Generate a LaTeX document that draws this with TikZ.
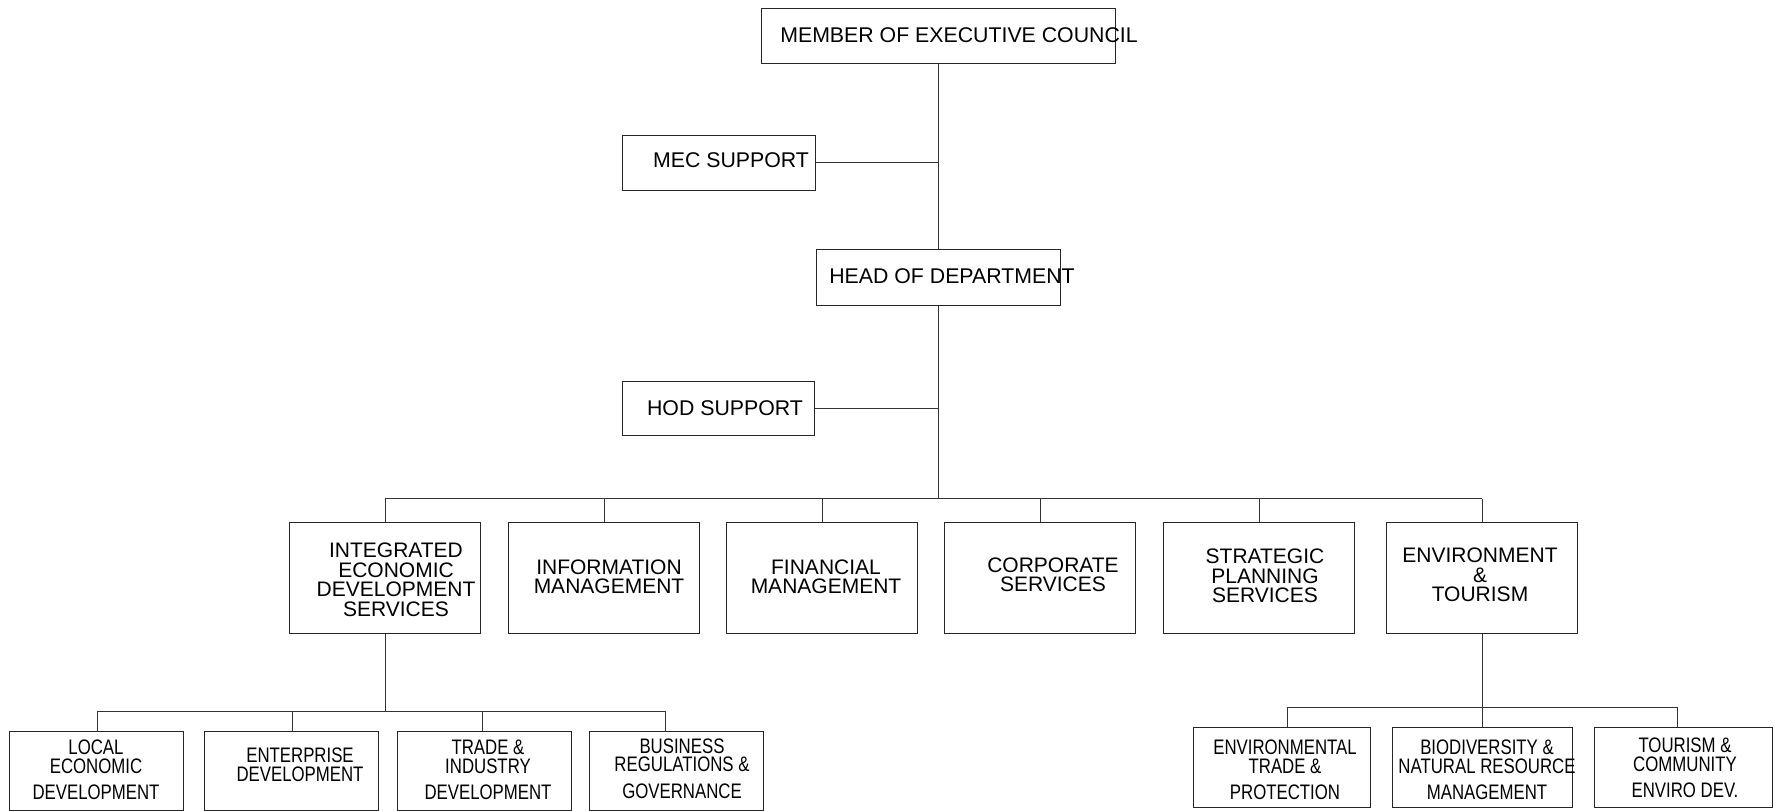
\documentclass[tikz,border=0pt]{standalone}
\usepackage{fontspec}
\setmainfont{Liberation Sans}
\newfontfamily\narrowfont[FakeStretch=0.8]{Liberation Sans}
\begin{document}
\begin{tikzpicture}[x=1pt,y=-1pt,
  box/.style={draw=black!85, line width=1pt, inner sep=0pt},
  conn/.style={draw=black!80, line width=0.9pt},
  toptext/.style={font=\fontsize{21.3}{22}\selectfont, inner sep=0pt},
  midtext/.style={font=\fontsize{21}{19.5}\selectfont, align=center, inner sep=0pt},
  bottext/.style={font=\narrowfont\fontsize{21}{18.5}\selectfont, align=center, inner sep=0pt}]
\useasboundingbox (0,0) rectangle (1775,811);

% top level
\node[box, minimum width=354, minimum height=55] (mec) at (938,35.5) {};
\node[toptext] (mect) at (959,35) {MEMBER OF EXECUTIVE COUNCIL};
\node[box, minimum width=193, minimum height=55] (mecs) at (719,162.5) {};
\node[toptext] (mecst) at (731,160) {MEC SUPPORT};
\node[box, minimum width=244, minimum height=56] (hod) at (938,277) {};
\node[toptext] (hodt) at (952,276) {HEAD OF DEPARTMENT};
\node[box, minimum width=192, minimum height=54] (hods) at (718,408) {};
\node[toptext] (hodst) at (725,408) {HOD SUPPORT};

\draw[conn] (mec.south) -- (hod.north);
\draw[conn] (mecs.east) -- (mecs.east -| mec.south);
\draw[conn] (hods.east) -- (hods.east -| hod.south);

% middle row
\coordinate (busM) at (938,498.5);
\foreach \n/\x in {ieds/385, info/604, fin/822, corp/1040, strat/1259, env/1482}{
  \node[box, minimum width=191, minimum height=111] (\n) at (\x,577.5) {};
}
\draw[conn] (hod.south) -- (busM);
\draw[conn] (ieds.north |- busM) -- (env.north |- busM);
\foreach \n in {ieds, info, fin, corp, strat, env}{
  \draw[conn] (\n.north) -- (\n.north |- busM);
}
\node[midtext] (iedst) at (396,580) {INTEGRATED\\ECONOMIC\\DEVELOPMENT\\SERVICES};
\node[midtext] (infot) at (609,577) {INFORMATION\\MANAGEMENT};
\node[midtext] (fint) at (826,577) {FINANCIAL\\MANAGEMENT};
\node[midtext] (corpt) at (1053,575) {CORPORATE\\SERVICES};
\node[midtext] (stratt) at (1265,576) {STRATEGIC\\PLANNING\\SERVICES};
\node[midtext] (envt) at (1480,575) {ENVIRONMENT\\\&\\TOURISM};

% bottom left group
\foreach \n/\x in {local/96, enter/291, trade/484, busi/676}{
  \node[box, minimum width=174, minimum height=79] (\n) at (\x,770.5) {};
}
\coordinate (lb1) at (97,711);
\coordinate (lb2) at (292,711);
\coordinate (lb3) at (482,711);
\coordinate (lb4) at (665,711);
\draw[conn] (ieds.south) -- (ieds.south |- lb1);
\draw[conn] (lb1) -- (lb4);
\draw[conn] (lb1) -- (lb1 |- local.north);
\draw[conn] (lb2) -- (lb2 |- enter.north);
\draw[conn] (lb3) -- (lb3 |- trade.north);
\draw[conn] (lb4) -- (lb4 |- busi.north);
\node[bottext] (localt) at (96,770) {LOCAL\\ECONOMIC\\[8pt]DEVELOPMENT};
\node[bottext] (entert) at (300,765) {ENTERPRISE\\[1pt]DEVELOPMENT};
\node[bottext] (tradet) at (488,770) {TRADE \&\\INDUSTRY\\[8pt]DEVELOPMENT};
\node[bottext] (busit) at (682,768.5) {BUSINESS\\REGULATIONS \&\\[8pt]GOVERNANCE};

% bottom right group
\node[box, minimum width=177, minimum height=80] (envtr) at (1281.5,767) {};
\node[box, minimum width=180, minimum height=80] (biod) at (1482,767) {};
\node[box, minimum width=178, minimum height=80] (tour) at (1683,767) {};
\coordinate (rb1) at (1287,707);
\coordinate (rb2) at (1482,707);
\coordinate (rb3) at (1677,707);
\draw[conn] (env.south) -- (env.south |- rb2);
\draw[conn] (rb1) -- (rb3);
\draw[conn] (rb1) -- (rb1 |- envtr.north);
\draw[conn] (rb2) -- (rb2 |- biod.north);
\draw[conn] (rb3) -- (rb3 |- tour.north);
\node[bottext] (envtrt) at (1285,770) {ENVIRONMENTAL\\TRADE \&\\[8pt]PROTECTION};
\node[bottext] (biodt) at (1487,770) {BIODIVERSITY \&\\NATURAL RESOURCE\\[8pt]MANAGEMENT};
\node[bottext] (tourt) at (1685,768) {TOURISM \&\\COMMUNITY\\[8pt]ENVIRO DEV.};
\end{tikzpicture}
\end{document}
